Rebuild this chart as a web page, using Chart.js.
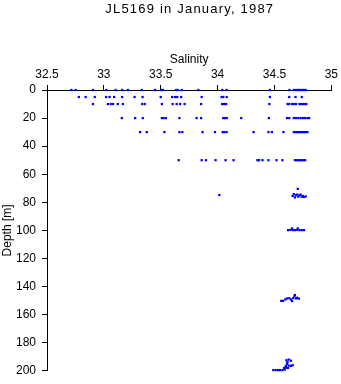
<!DOCTYPE html>
<html>
<head>
<meta charset="utf-8">
<script src="https://cdn.jsdelivr.net/npm/chart.js@4/dist/chart.umd.min.js"></script>
<style>
  html,body{margin:0;padding:0;background:#fff}
  #wrap{width:341px;height:384px}
</style>
</head>
<body>
<div id="wrap"><canvas id="chart"></canvas></div>
<script>
const TITLE = 'JL5169 in January, 1987';
const salinityTicks = [32.5, 33, 33.5, 34, 34.5, 35];
const depthTicks = [0, 20, 40, 60, 80, 100, 120, 140, 160, 180, 200];

// bottle stations at standard depths (salinity per station)
const sal0 = [32.714, 32.752, 32.904, 33.021, 33.103, 33.161, 33.211, 33.333, 33.451, 33.505, 33.52, 33.635, 33.65, 33.684, 33.831, 34.041, 34.079, 34.459, 34.632, 34.67, 34.685, 34.70, 34.715, 34.73, 34.745, 34.76, 34.775];
const sal5 = [32.78, 32.84, 32.92, 33.02, 33.05, 33.09, 33.16, 33.27, 33.34, 33.50, 33.60, 33.625, 33.645, 33.68, 33.86, 34.035, 34.05, 34.08, 34.46, 34.63, 34.685, 34.74];
const sal10 = [32.904, 33.035, 33.06, 33.08, 33.123, 33.167, 33.337, 33.36, 33.51, 33.605, 33.64, 33.67, 33.71, 33.855, 34.04, 34.055, 34.075, 34.455, 34.615, 34.63, 34.655, 34.67, 34.69, 34.72, 34.735, 34.75, 34.765, 34.78];
const sal20 = [33.158, 33.275, 33.342, 33.51, 33.525, 33.545, 33.664, 33.815, 33.855, 34.05, 34.065, 34.08, 34.208, 34.451, 34.61, 34.63, 34.67, 34.69, 34.71, 34.73, 34.75, 34.77, 34.79, 34.805];
const sal30 = [33.319, 33.377, 33.532, 33.664, 33.69, 33.868, 33.977, 34.045, 34.06, 34.079, 34.316, 34.447, 34.477, 34.579, 34.67, 34.685, 34.70, 34.715, 34.73, 34.745, 34.76, 34.775, 34.79];
const sal50 = [33.658, 33.86, 33.898, 33.982, 34.07, 34.14, 34.35, 34.365, 34.395, 34.447, 34.518, 34.57, 34.68, 34.695, 34.71, 34.725, 34.74, 34.755, 34.77];

// deeper samples (salinity, depth pairs)
const deep75Sal   = [34.015, 34.705, 34.66, 34.67, 34.68, 34.69, 34.70, 34.71, 34.72, 34.73, 34.74, 34.75, 34.76, 34.775];
const deep75Depth = [74.8, 70.4, 75.5, 74.2, 76.5, 75.0, 74.5, 76.0, 75.0, 74.5, 76.0, 75.5, 76.2, 75.8];
const deep100Sal   = [34.62, 34.64, 34.655, 34.66, 34.68, 34.70, 34.705, 34.72, 34.74, 34.76];
const deep100Depth = [99.8, 99.6, 98.6, 99.8, 99.8, 99.6, 98.6, 99.8, 99.8, 99.8];
const deep150Sal   = [34.56, 34.575, 34.595, 34.61, 34.63, 34.645, 34.655, 34.665, 34.675, 34.68, 34.69, 34.70, 34.715];
const deep150Depth = [150.2, 150.2, 149.2, 148.5, 148.3, 149.2, 150.3, 148.2, 147.0, 146.0, 148.5, 148.0, 148.6];
const deep200Sal   = [34.49, 34.51, 34.53, 34.55, 34.57, 34.59, 34.585, 34.60, 34.62, 34.60, 34.625, 34.645, 34.66, 34.61, 34.605, 34.625, 34.645, 34.615];
const deep200Depth = [199.5, 199.5, 199.5, 199.5, 199.5, 199.2, 198.0, 197.8, 198.0, 196.5, 196.3, 196.5, 196.0, 195.0, 192.5, 192.0, 192.8, 193.8];

function rowPoints(sal, depth){ return sal.map(s => ({x: s, y: depth})); }
function pairPoints(sal, dep){ return sal.map((s, i) => ({x: s, y: dep[i]})); }

const points = [].concat(
  rowPoints(sal0, 0), rowPoints(sal5, 5), rowPoints(sal10, 10),
  rowPoints(sal20, 20), rowPoints(sal30, 30), rowPoints(sal50, 50),
  pairPoints(deep75Sal, deep75Depth), pairPoints(deep100Sal, deep100Depth),
  pairPoints(deep150Sal, deep150Depth), pairPoints(deep200Sal, deep200Depth)
);

const FONT = '"Liberation Sans", Arial, Helvetica, sans-serif';

// title centred over the plot area, drawn a bit wider like the original
const titlePlugin = {
  id: 'plotTitle',
  afterDraw(chart){
    const {ctx, chartArea} = chart;
    ctx.save();
    ctx.font = '13px ' + FONT;
    ctx.letterSpacing = '1.2px';
    ctx.fillStyle = '#000';
    ctx.textAlign = 'center';
    ctx.textBaseline = 'middle';
    ctx.fillText(TITLE, (chartArea.left + chartArea.right) / 2 + 0.6, 9);
    ctx.restore();
  }
};

Chart.defaults.color = '#000';
Chart.defaults.font.family = FONT;

new Chart(document.getElementById('chart'), {
  type: 'scatter',
  data: {
    datasets: [{
      data: points,
      pointStyle: 'rect',
      pointRadius: 1.6,
      pointBorderWidth: 0,
      pointBackgroundColor: '#0000ff',
      pointBorderColor: '#0000ff',
      clip: false
    }]
  },
  options: {
    responsive: true,
    maintainAspectRatio: false,
    animation: false,
    events: [],
    layout: {padding: {top: 17, right: 9, bottom: 8, left: 0}},
    plugins: {legend: {display: false}, tooltip: {enabled: false}, title: {display: false}},
    scales: {
      x: {
        type: 'linear',
        position: 'top',
        min: 32.5, max: 35,
        afterBuildTicks: s => { s.ticks = salinityTicks.map(v => ({value: v})); },
        afterFit: s => { s.height = 73; },
        ticks: {font: {size: 12}, padding: 3, maxRotation: 0, autoSkip: false, callback: v => String(+v)},
        grid: {drawOnChartArea: false, tickLength: 5, color: '#000'},
        border: {color: '#000', width: 1},
        title: {display: true, text: 'Salinity', font: {size: 12}, padding: {top: 35, bottom: 0}}
      },
      y: {
        type: 'linear',
        reverse: true,
        min: 0, max: 200,
        afterBuildTicks: s => { s.ticks = depthTicks.map(v => ({value: v})); },
        afterFit: s => { s.width = 47; },
        ticks: {font: {size: 12}, padding: 6, autoSkip: false, callback: v => String(+v)},
        grid: {drawOnChartArea: false, tickLength: 5, color: '#000'},
        border: {color: '#000', width: 1},
        title: {display: true, text: 'Depth [m]', font: {size: 12}, padding: {top: 0, bottom: 0}}
      }
    }
  },
  plugins: [titlePlugin]
});
</script>
</body>
</html>
